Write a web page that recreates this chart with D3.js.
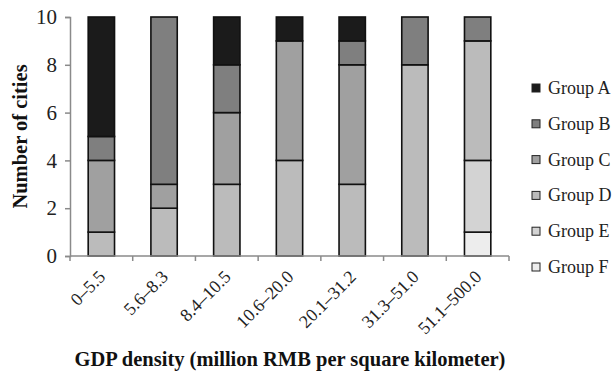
<!DOCTYPE html>
<html>
<head>
<meta charset="utf-8">
<script src="https://cdn.jsdelivr.net/npm/d3@7"></script>
<style>
  body { margin: 0; background: #fff; }
  svg text { font-family: "Liberation Serif", "Times New Roman", Times, serif !important; }
</style>
</head>
<body>
<svg id="chart" width="616" height="377"></svg>
<script>
// GDP density classes (million RMB per km²)
const categories = ["0\u20135.5", "5.6\u20138.3", "8.4\u201310.5", "10.6\u201320.0", "20.1\u201331.2", "31.3\u201351.0", "51.1\u2013500.0"];
const groups = ["Group A", "Group B", "Group C", "Group D", "Group E", "Group F"];
// number of cities per group in each density class
const groupA = [5, 0, 2, 1, 1, 0, 0];
const groupB = [1, 7, 2, 0, 1, 2, 1];
const groupC = [3, 1, 3, 5, 5, 0, 0];
const groupD = [1, 2, 3, 4, 3, 8, 5];
const groupE = [0, 0, 0, 0, 0, 0, 3];
const groupF = [0, 0, 0, 0, 0, 0, 1];
const yTicks = [0, 2, 4, 6, 8, 10];
const colors = ["#1b1b1b", "#7f7f7f", "#a0a0a0", "#bbbbbb", "#d3d3d3", "#ededed"];

const seriesValues = [groupA, groupB, groupC, groupD, groupE, groupF];
const rows = categories.map((c, i) => {
  const r = { cat: c };
  groups.forEach((g, k) => { r[g] = seriesValues[k][i]; });
  return r;
});
// stack from Group F at the bottom up to Group A on top
const stackOrder = groups.slice().reverse();
const stacked = d3.stack().keys(stackOrder)(rows);

const svg = d3.select("#chart");
const m = { left: 70, right: 509, top: 17, bottom: 256 };

const x = d3.scaleBand().domain(categories).range([m.left, m.right]).paddingInner(0).paddingOuter(0);
const y = d3.scaleLinear().domain([0, 10]).range([m.bottom, m.top]);
const color = d3.scaleOrdinal().domain(groups).range(colors);
const barW = x.bandwidth() * 0.42;

// stacked bars
svg.append("g").selectAll("g").data(stacked).join("g")
  .attr("fill", d => color(d.key))
  .selectAll("rect").data(d => d.filter(s => s[1] - s[0] > 0)).join("rect")
  .attr("x", d => x(d.data.cat) + (x.bandwidth() - barW) / 2)
  .attr("y", d => y(d[1]))
  .attr("width", barW)
  .attr("height", d => y(d[0]) - y(d[1]))
  .attr("stroke", "#111")
  .attr("stroke-width", 1.6);

// y axis
const yAxis = svg.append("g").attr("transform", `translate(${m.left},0)`)
  .call(d3.axisLeft(y).tickValues(yTicks).tickSize(5).tickPadding(8));
yAxis.select(".domain").attr("stroke", "#8a8a8a").attr("stroke-width", 1.5);
yAxis.selectAll(".tick line").attr("stroke", "#8a8a8a").attr("stroke-width", 1.5);
yAxis.selectAll(".tick text").attr("fill", "#222").style("font-size", "21px");

// x axis: ticks at category boundaries
const xAxisG = svg.append("g").attr("transform", `translate(0,${m.bottom})`);
xAxisG.append("line").attr("x1", m.left).attr("x2", m.right)
  .attr("stroke", "#8a8a8a").attr("stroke-width", 1.5);
const bounds = categories.map(c => x(c)).concat([m.right]);
xAxisG.selectAll("line.tk").data(bounds).join("line").attr("class", "tk")
  .attr("x1", d => d).attr("x2", d => d).attr("y1", 0).attr("y2", 5)
  .attr("stroke", "#8a8a8a").attr("stroke-width", 1.5);
xAxisG.selectAll("text").data(categories).join("text")
  .attr("transform", d => `translate(${x(d) + x.bandwidth() / 2 + 5},${22}) rotate(-45)`)
  .attr("text-anchor", "end")
  .attr("fill", "#222")
  .style("font-size", "18px")
  .text(d => d);

// axis titles
svg.append("text")
  .attr("transform", `translate(27,${(m.top + m.bottom) / 2}) rotate(-90)`)
  .attr("text-anchor", "middle")
  .style("font-size", "20.5px").style("font-weight", "bold").attr("fill", "#111")
  .text("Number of cities");
svg.append("text")
  .attr("x", 290).attr("y", 366)
  .attr("text-anchor", "middle")
  .style("font-size", "20.5px").style("font-weight", "bold").attr("fill", "#111")
  .text("GDP density (million RMB per square kilometer)");

// legend
const leg = svg.append("g").selectAll("g").data(groups).join("g")
  .attr("transform", (d, i) => `translate(532,${88 + i * 35.8})`);
leg.append("rect").attr("x", 0).attr("y", -4).attr("width", 8).attr("height", 8)
  .attr("fill", d => color(d)).attr("stroke", "#222").attr("stroke-width", 1);
leg.append("text").attr("x", 16).attr("y", 6)
  .style("font-size", "18px").attr("fill", "#222")
  .text(d => d);
</script>
</body>
</html>
